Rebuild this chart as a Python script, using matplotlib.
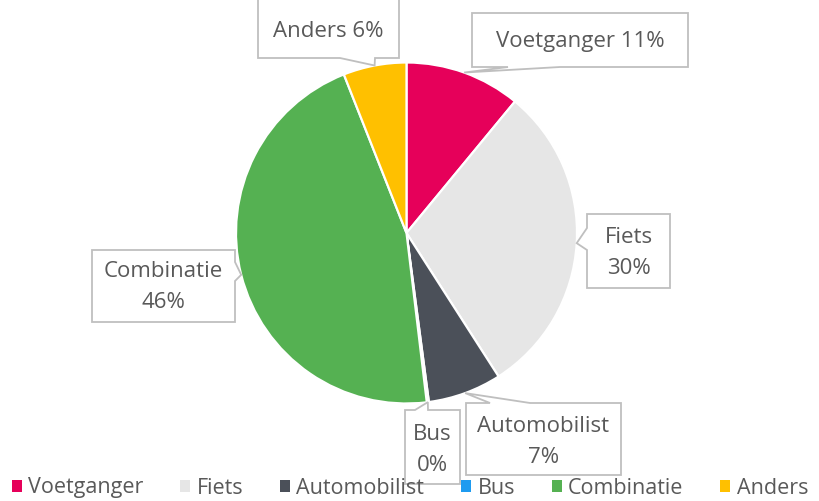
import matplotlib
matplotlib.use("Agg")
import matplotlib.pyplot as plt
import numpy as np
from matplotlib.patches import Polygon, Patch

categories = ["Voetganger", "Fiets", "Automobilist", "Bus", "Combinatie", "Anders"]
values = [11, 30, 7, 0.2, 46, 6]
colors = ["#E6005A", "#E6E6E6", "#4B5059", "#1E9BF0", "#55B152", "#FFC000"]

W, H = 820, 501
fig = plt.figure(figsize=(W / 100, H / 100), dpi=100)
plt.rcParams['font.family'] = ['Open Sans', 'DejaVu Sans']
TXT = "#595959"
FS = 16

cx, cy, R = 406.5, 233, 170.5
ax = fig.add_axes([(cx - R) / W, (H - cy - R) / H, 2 * R / W, 2 * R / H])
wedges, _ = ax.pie(values, colors=colors, startangle=90, counterclock=False,
                   radius=1, wedgeprops=dict(edgecolor="white", linewidth=1.6))
ax.set_xlim(-1, 1)
ax.set_ylim(-1, 1)
ax.axis("off")

ov = fig.add_axes([0, 0, 1, 1], zorder=5)
ov.set_xlim(0, W)
ov.set_ylim(H, 0)
ov.axis("off")
ov.patch.set_alpha(0)

total = sum(values)
cum = np.cumsum([0] + values)
mids = (cum[:-1] + cum[1:]) / 2 / total

def tip_px(frac):
    ang = np.deg2rad(90 - 360 * frac)
    p = ax.transData.transform((np.cos(ang), np.sin(ang)))
    return ov.transData.inverted().transform(p)

# box layouts: (x0, y0, x1, y1) in pixels (top-left origin), side, base span, text centre y
boxes = {
    "Voetganger": ((472, 13, 688, 67), "bottom", (508, 560), 41),
    "Fiets": ((587, 214, 670, 288), "left", (228, 250), 253),
    "Automobilist": ((466, 403, 621, 475), "top", (490, 530), 442),
    "Bus": ((405, 410, 460, 484), "top", (415, 428), 450),
    "Combinatie": ((92, 250, 235, 322), "right", (262, 281), 287),
    "Anders": ((258, -5, 399, 58), "bottom", (340, 375), 31),
}

for i, cat in enumerate(categories):
    (x0, y0, x1, y1), side, (a, b), yc = boxes[cat]
    t = tip_px(mids[i])
    if side == "bottom":
        pts = [(x0, y0), (x1, y0), (x1, y1), (b, y1), tuple(t), (a, y1), (x0, y1)]
    elif side == "top":
        pts = [(x0, y0), (a, y0), tuple(t), (b, y0), (x1, y0), (x1, y1), (x0, y1)]
    elif side == "left":
        pts = [(x0, y0), (x1, y0), (x1, y1), (x0, y1), (x0, b), tuple(t), (x0, a)]
    else:
        pts = [(x0, y0), (x1, y0), (x1, a), tuple(t), (x1, b), (x1, y1), (x0, y1)]
    poly = Polygon(pts, closed=True, facecolor="white", edgecolor="#BFBFBF",
                   linewidth=1.3, clip_on=False, joinstyle="miter")
    ov.add_patch(poly)
    xc = (x0 + x1) / 2
    pct = f"{round(values[i] / total * 100):d}%"
    if cat in ("Voetganger", "Anders"):
        ov.text(xc, yc, f"{cat} {pct}", ha="center", va="center", fontsize=FS, color=TXT)
    else:
        ov.text(xc, yc - 15.5, cat, ha="center", va="center", fontsize=FS, color=TXT)
        ov.text(xc, yc + 15.5, pct, ha="center", va="center", fontsize=FS, color=TXT)

handles = [Patch(facecolor=c, edgecolor="none") for c in colors]
leg = fig.legend(handles, categories, loc="center", bbox_to_anchor=(0.5, (H - 488) / H),
                 ncol=6, frameon=False, fontsize=15.5, handlelength=0.45, handleheight=0.45,
                 handletextpad=0.3, columnspacing=1.72, labelcolor=TXT,
                 borderaxespad=0, borderpad=0)
leg.set_zorder(10)

fig.savefig("out.png", dpi=100)
